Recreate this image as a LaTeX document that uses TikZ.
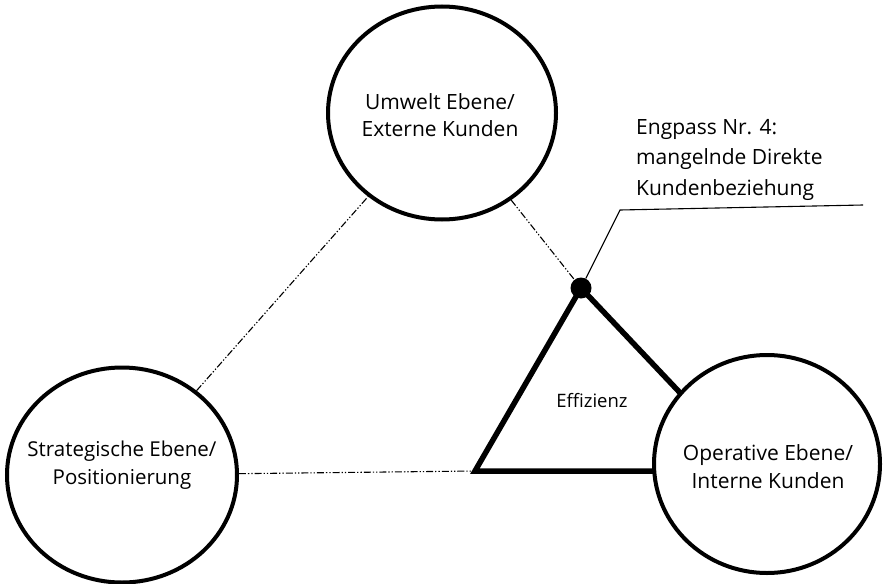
\documentclass[tikz,border=0pt]{standalone}
\usepackage{fontspec}
\setmainfont{Open Sans}
\usetikzlibrary{shapes.geometric}
\begin{document}
\begin{tikzpicture}[x=1pt,y=-1pt,
  level/.style={draw, ellipse, line width=4pt, fill=white, inner sep=0pt},
  leveltext/.style={align=center, inner sep=0pt, font=\fontsize{21}{27}\selectfont},
  link/.style={line width=1.1pt,
    dash pattern=on 7pt off 2pt on 1.3pt off 2pt on 1.3pt off 2pt},
  frame/.style={line width=5.5pt, line join=miter},
  callout/.style={line width=1.1pt}]
\useasboundingbox (0,0) rectangle (885,583);

% efficiency triangle (its lower right corner lies under the operative circle)
\coordinate (apex) at (581,288);
\coordinate (tbl)  at (475,471);
\coordinate (tbr)  at (754,471);
\draw[frame] (apex) -- (tbl) -- (tbr) -- cycle;
\node[font=\fontsize{18.5}{22}\selectfont] (eff) at (592,401) {Effizienz};

% the three levels
\node[level, minimum width=228pt, minimum height=213pt] (umwelt) at (442,113) {};
\node[leveltext] (umweltText) at (440,115) {Umwelt Ebene/\\Externe Kunden};

\node[level, minimum width=230pt, minimum height=215pt] (strat) at (122,475) {};
\node[leveltext, font=\fontsize{20.5}{28}\selectfont] (stratText) at (122,465)
  {Strategische Ebene/\\Positionierung};

\node[level, minimum width=226pt, minimum height=218pt] (oper) at (767,464) {};
\node[leveltext, font=\fontsize{21}{28}\selectfont] (operText) at (768,467)
  {Operative Ebene/\\Interne Kunden};

% bottleneck point
\node[circle, fill=black, inner sep=0pt, minimum size=21pt] (dot) at (apex) {};

% loose links between the levels
\draw[link] (strat) -- (umwelt);
\draw[link] (umwelt) -- (dot);
\draw[link] (strat) -- (tbl);

% callout
\coordinate (knee) at (620,210);
\coordinate (tail) at (863,205);
\draw[callout] (dot) -- (knee) -- (tail);
\node[anchor=north west, align=left, inner sep=0pt,
  font=\fontsize{21}{30.5}\selectfont] (note) at (636,119)
  {Engpass Nr. 4:\\mangelnde Direkte\\Kundenbeziehung};
\end{tikzpicture}
\end{document}
